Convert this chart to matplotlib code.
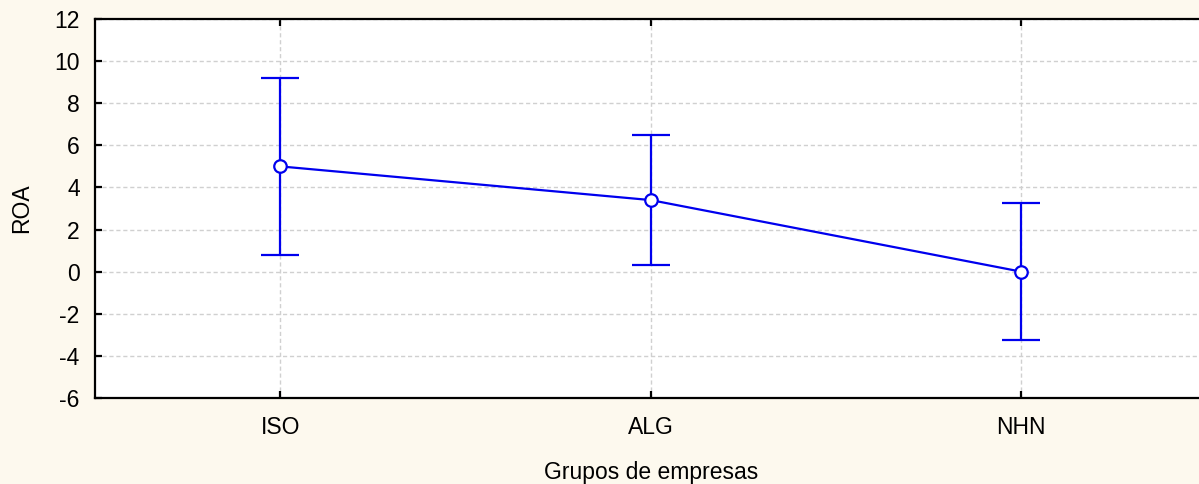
import matplotlib
matplotlib.use("Agg")
import matplotlib.pyplot as plt

categories = ["ISO", "ALG", "NHN"]
means = [5.0, 3.4, 0.0]
errors = [4.22, 3.08, 3.25]
yticks = [-6, -4, -2, 0, 2, 4, 6, 8, 10, 12]

plt.rcParams['font.family'] = ['Liberation Sans', 'DejaVu Sans']
plt.rcParams['axes.unicode_minus'] = False

W, H = 1199, 484
fig = plt.figure(figsize=(W / 100, H / 100), dpi=100, facecolor='#FDF9EE')
ax = fig.add_axes([95 / W, 1 - 398 / H, (1206.5 - 95) / W, (398 - 19) / H])
ax.set_facecolor('white')

x = list(range(len(categories)))
ax.errorbar(x, means, yerr=errors, color='#0000EE', lw=1.6, capsize=13.5,
            capthick=1.6, marker='o', ms=9, mfc='white', mec='#0000EE',
            mew=1.6, zorder=3)

ax.set_xlim(-0.5, 2.5)
ax.set_ylim(-6, 12)
ax.set_xticks(x)
ax.set_xticklabels(categories)
ax.set_yticks(yticks)
ax.grid(True, color='#d0d0d0', linestyle=(0, (3, 2)), lw=1)
ax.set_axisbelow(True)

for s in ['left', 'bottom', 'top']:
    ax.spines[s].set_linewidth(1.6)
    ax.spines[s].set_color('black')
ax.spines['right'].set_visible(False)

ax.tick_params(direction='in', length=5, width=1.6, labelsize=16.5, top=True)
ax.tick_params(axis='x', pad=13)
ax.tick_params(axis='y', pad=11)
ax.set_xlabel('Grupos de empresas', fontsize=16.5, labelpad=16)
ax.set_ylabel('ROA', fontsize=16.5, labelpad=15)

fig.savefig('out.png', dpi=100, facecolor=fig.get_facecolor())
